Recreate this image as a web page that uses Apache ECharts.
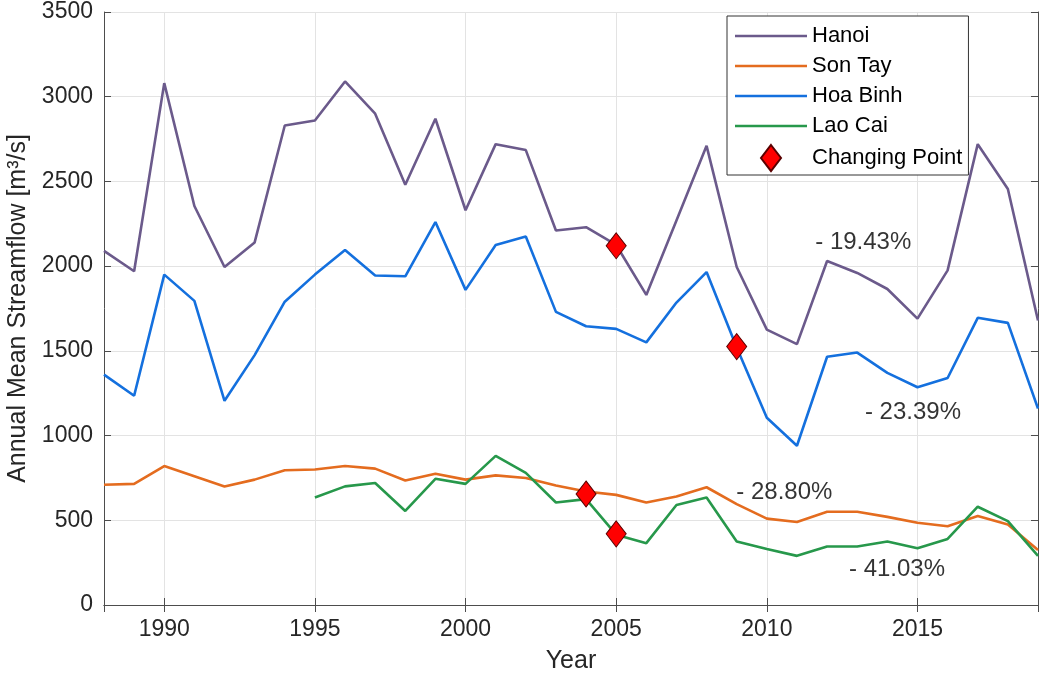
<!DOCTYPE html>
<html>
<head>
<meta charset="utf-8">
<title>Annual Mean Streamflow</title>
<script src="https://cdn.jsdelivr.net/npm/echarts@6/dist/echarts.min.js"></script>
<style>
  html, body { margin: 0; padding: 0; background: #fff; }
  #chart { width: 1039px; height: 677px; }
</style>
</head>
<body>
<div id="chart"></div>
<script>
// years 1988 - 2019
const years = [1988, 1989, 1990, 1991, 1992, 1993, 1994, 1995, 1996, 1997, 1998, 1999, 2000, 2001, 2002, 2003,
  2004, 2005, 2006, 2007, 2008, 2009, 2010, 2011, 2012, 2013, 2014, 2015, 2016, 2017, 2018, 2019]

const hanoi = [2090, 1970, 3080, 2355, 1995, 2140, 2830, 2860, 3090, 2900, 2480, 2870, 2330, 2720, 2685, 2210,
  2230, 2125, 1830, 2270, 2710, 1995, 1625, 1540, 2030, 1960, 1865, 1690, 1975, 2720, 2455, 1680]
const sonTay = [710, 715, 820, 760, 700, 740, 795, 800, 820, 805, 735, 775, 740, 765, 750, 705,
  670, 650, 605, 640, 695, 595, 510, 490, 550, 550, 520, 485, 465, 525, 475, 325]
const hoaBinh = [1360, 1235, 1950, 1795, 1205, 1475, 1790, 1950, 2095, 1945, 1940, 2260, 1860, 2125, 2175, 1730,
  1645, 1630, 1550, 1785, 1965, 1520, 1105, 940, 1465, 1490, 1370, 1285, 1340, 1695, 1665, 1160]
// Lao Cai starts in 1995
const laoCai = [null, null, null, null, null, null, null, 635, 700, 720, 555, 745, 715, 880, 780, 605,
  625, 415, 365, 590, 635, 375, 330, 290, 345, 345, 375, 335, 390, 580, 495, 290]

// changing points
const cpYears = [2005, 2009, 2004, 2005]
const cpValues = [2120, 1525, 655, 420]

// trend annotations
const annoX = [2013.2, 2014.85, 2010.58, 2014.32]
const annoY = [2142, 1139, 667, 212]
const annoText = ['- 19.43%', '- 23.39%', '- 28.80%', '- 41.03%']

const fontFamily = '"Liberation Sans", Arial, Helvetica, sans-serif'
const axisColor = '#4d4d4d'
const textColor = '#262626'
const lineIcon = 'path://M0,0 L72,0 L72,2.5 L0,2.5 Z'
const diamondIcon = 'path://M10,0 L20,13 L10,26 L0,13 Z'

function pairs (vals) {
  return years.map(function (y, i) { return [y, vals[i]] })
}

function lineSeries (name, vals, color) {
  return {
    name: name,
    type: 'line',
    data: pairs(vals),
    symbol: 'none',
    connectNulls: false,
    color: color,
    lineStyle: { width: 2.6, color: color },
    itemStyle: { color: color },
    emphasis: { disabled: true },
    z: 3
  }
}

const chart = echarts.init(document.getElementById('chart'))
chart.setOption({
  animation: false,
  textStyle: { fontFamily: fontFamily },
  grid: { left: 104, right: 1, top: 12, bottom: 72, containLabel: false, outerBoundsMode: 'none' },
  legend: {
    left: 727,
    top: 16,
    orient: 'vertical',
    data: [
      { name: 'Hanoi', icon: lineIcon },
      { name: 'Son Tay', icon: lineIcon },
      { name: 'Hoa Binh', icon: lineIcon },
      { name: 'Lao Cai', icon: lineIcon },
      { name: 'Changing Point', icon: diamondIcon }
    ],
    symbolKeepAspect: true,
    backgroundColor: '#fff',
    borderColor: '#333',
    borderWidth: 1,
    borderRadius: 0,
    padding: [8, 6, 3, 8],
    itemWidth: 72,
    itemHeight: 26,
    itemGap: 6,
    textStyle: { fontSize: 22, color: '#000', fontFamily: fontFamily, lineHeight: 24 }
  },
  xAxis: [
    {
      type: 'value',
      min: 1988,
      max: 2019,
      splitNumber: 6,
      name: 'Year',
      nameLocation: 'middle',
      nameGap: 44,
      nameTextStyle: { fontSize: 25, color: textColor },
      axisLine: { show: true, lineStyle: { color: axisColor, width: 1 } },
      axisTick: { show: true, inside: true, length: 7, lineStyle: { color: axisColor } },
      axisLabel: {
        fontSize: 23,
        color: textColor,
        margin: 13,
        showMinLabel: false,
        showMaxLabel: false,
        formatter: function (v) { return String(v) }
      },
      splitLine: { show: true, lineStyle: { color: '#e3e3e3', width: 1 } }
    },
    {
      type: 'value',
      position: 'top',
      min: 1988,
      max: 2019,
      splitNumber: 6,
      axisLine: { show: true, lineStyle: { color: axisColor, width: 1 } },
      axisTick: { show: true, inside: true, length: 7, lineStyle: { color: axisColor } },
      axisLabel: { show: false },
      splitLine: { show: false }
    }
  ],
  yAxis: [
    {
      type: 'value',
      min: 0,
      max: 3500,
      interval: 500,
      name: 'Annual Mean Streamflow [m³/s]',
      nameLocation: 'middle',
      nameGap: 73,
      nameTextStyle: { fontSize: 25, color: textColor },
      axisLine: { show: true, lineStyle: { color: axisColor, width: 1 } },
      axisTick: { show: true, inside: true, length: 7, lineStyle: { color: axisColor } },
      axisLabel: {
        fontSize: 23,
        color: textColor,
        margin: 11,
        formatter: function (v) { return String(v) }
      },
      splitLine: { show: true, lineStyle: { color: '#e3e3e3', width: 1 } }
    },
    {
      type: 'value',
      position: 'right',
      min: 0,
      max: 3500,
      interval: 500,
      axisLine: { show: true, lineStyle: { color: axisColor, width: 1 } },
      axisTick: { show: true, inside: true, length: 7, lineStyle: { color: axisColor } },
      axisLabel: { show: false },
      splitLine: { show: false }
    }
  ],
  series: [
    lineSeries('Hanoi', hanoi, '#6b5a8b'),
    lineSeries('Son Tay', sonTay, '#e46c1f'),
    lineSeries('Hoa Binh', hoaBinh, '#1470de'),
    lineSeries('Lao Cai', laoCai, '#27984b'),
    {
      name: 'Changing Point',
      type: 'scatter',
      symbol: 'diamond',
      symbolSize: [20, 26],
      data: cpYears.map(function (y, i) { return [y, cpValues[i]] }),
      itemStyle: { color: '#ff0000', borderColor: '#5a0000', borderWidth: 1, opacity: 1 },
      emphasis: { disabled: true },
      z: 5
    },
    {
      name: 'trend',
      type: 'scatter',
      symbolSize: 0,
      silent: true,
      data: annoX.map(function (x, i) { return [x, annoY[i], annoText[i]] }),
      label: {
        show: true,
        position: 'inside',
        fontSize: 24,
        color: '#000',
        textBorderWidth: 0,
        formatter: function (p) { return p.data[2] }
      },
      z: 6
    }
  ]
})
</script>
</body>
</html>
